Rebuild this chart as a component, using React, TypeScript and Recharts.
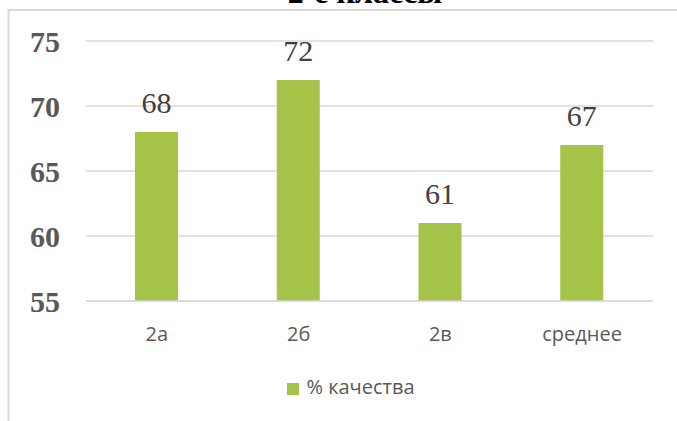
import React from 'react';
import { BarChart, Bar, XAxis, YAxis, CartesianGrid, Legend, LabelList } from 'recharts';

const categories = ['2а', '2б', '2в', 'среднее'];
const quality = [68, 72, 61, 67];
const yTicks = [55, 60, 65, 70, 75];
const seriesName = '% качества';
const title = '2-е классы';

const data = categories.map((c, i) => ({ name: c, value: quality[i] }));

export default function App() {
  return (
    <div style={{ position: 'absolute', left: 0, top: 0, width: 677, height: 421, overflow: 'hidden', background: '#fff' }}>
      <svg width={677} height={421} style={{ position: 'absolute', left: 0, top: 0 }}>
        <rect x={8.5} y={10} width={900} height={900} fill="none" stroke="#d9d9d9" strokeWidth={2} />
        <text x={365} y={3} textAnchor="middle" fontFamily="Liberation Serif" fontWeight="bold" fontSize={32} fill="#000">
          {title}
        </text>
      </svg>
      <div style={{ position: 'absolute', left: 0, top: 0 }}>
        <BarChart width={677} height={421} data={data} margin={{ top: 41, right: 24, left: 0, bottom: 90 }}>
          <CartesianGrid vertical={false} stroke="#d9d9d9" strokeWidth={1.5} />
          <XAxis
            dataKey="name"
            height={30}
            axisLine={{ stroke: '#d9d9d9', strokeWidth: 1.5 }}
            tickLine={false}
            tickSize={0}
            tickMargin={26}
            tick={{ fontFamily: 'Open Sans', fontSize: 20, fill: '#595959' }}
          />
          <YAxis
            width={86}
            domain={[55, 75]}
            ticks={yTicks}
            axisLine={false}
            tickLine={false}
            tickSize={0}
            tickMargin={26}
            tick={{ fontFamily: 'Liberation Serif', fontWeight: 'bold', fontSize: 30, fill: '#595959' }}
          />
          <Legend
            verticalAlign="middle"
            align="center"
            layout="horizontal"
            iconType="square"
            iconSize={12}
            wrapperStyle={{ top: 373, left: 32, width: 648, fontFamily: 'Open Sans', fontSize: 20 }}
            formatter={(v: string) => <span style={{ color: '#595959', marginLeft: 3 }}>{v}</span>}
          />
          <Bar dataKey="value" name={seriesName} fill="#a5c249" barSize={43} isAnimationActive={false}>
            <LabelList dataKey="value" position="top" offset={19} style={{ fontFamily: 'Liberation Serif', fontSize: 30, fill: '#404040' }} />
          </Bar>
        </BarChart>
      </div>
    </div>
  );
}
